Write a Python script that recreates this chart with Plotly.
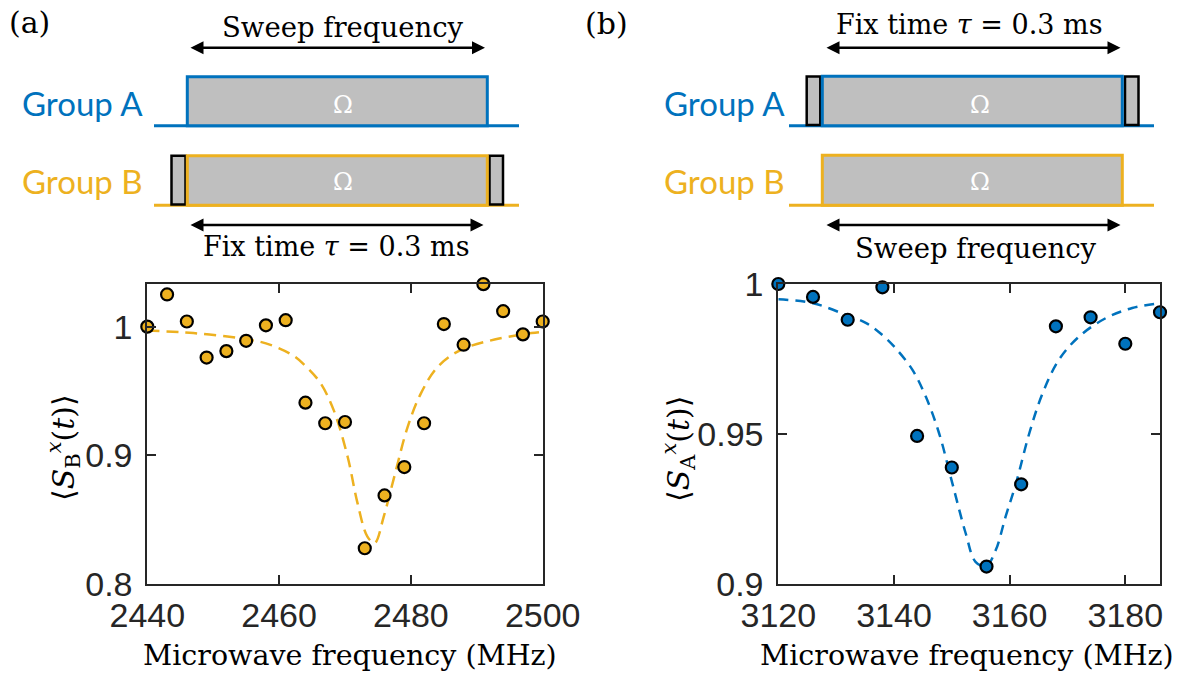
import plotly.graph_objects as go

W, H = 1187, 681

# ---------------- data ----------------
# panel (a): group B signal vs frequency
b_freq = [2440, 2443, 2446, 2449, 2452, 2455, 2458, 2461, 2464, 2467, 2470,
          2473, 2476, 2479, 2482, 2485, 2488, 2491, 2494, 2497, 2500]
b_signal = [1.000, 1.025, 1.004, 0.976, 0.981, 0.989, 1.001, 1.005, 0.941, 0.925, 0.926,
            0.828, 0.869, 0.891, 0.925, 1.002, 0.986, 1.033, 1.012, 0.994, 1.004]
b_fit_freq = [2440, 2447, 2454, 2458, 2462, 2464.3, 2466.3, 2468.3, 2470.4, 2471.9, 2473.4,
              2474.5, 2475.9, 2477.5, 2479.5, 2481.5, 2484.1, 2487.6, 2492.7, 2498.3, 2500]
b_fit_val = [0.997, 0.995, 0.991, 0.987, 0.978, 0.968, 0.956, 0.935, 0.899, 0.863, 0.837,
             0.832, 0.853, 0.884, 0.922, 0.948, 0.969, 0.982, 0.990, 0.995, 0.996]

# panel (b): group A signal vs frequency
a_freq = [3120, 3126, 3132, 3138, 3144, 3150, 3156, 3162, 3168, 3174, 3180, 3186]
a_signal = [1.000, 0.9957, 0.9881, 0.9989, 0.9494, 0.9389, 0.9059, 0.9333,
            0.9859, 0.9889, 0.9801, 0.9906]
a_fit_freq = [3120, 3126, 3131.7, 3135.2, 3138, 3140.3, 3143.2, 3145.5, 3147.8, 3150.1,
              3152.4, 3154.1, 3155.9, 3157.6, 3159.3, 3161.1, 3163.4, 3165.7, 3168.5,
              3172, 3176.6, 3181.2, 3186]
a_fit_val = [0.9949, 0.9936, 0.9897, 0.987, 0.983, 0.9786, 0.9714, 0.9625, 0.9503, 0.9336,
             0.917, 0.9075, 0.906, 0.9114, 0.9225, 0.9336, 0.9503, 0.9636, 0.9747,
             0.9825, 0.9886, 0.992, 0.9936]

b_xticks = [2440, 2460, 2480, 2500]
b_yticks = [0.8, 0.9, 1.0]
b_yticktext = ["0.8", "0.9", "1"]
a_xticks = [3120, 3140, 3160, 3180]
a_yticks = [0.9, 0.95, 1.0]
a_yticktext = ["0.9", "0.95", "1"]

# ---------------- style ----------------
BLUE = "#0072BD"
YELLOW = "#EDB120"
GRAY = "#BFBFBF"
AX = "#262626"
SERIF = "DejaVu Serif"
SANS = "Liberation Sans"
LABEL = "Lato"


def px(x):
    return x / W


def py(y):
    return 1 - y / H


fig = go.Figure()

fig.add_trace(go.Scatter(x=b_fit_freq, y=b_fit_val, mode="lines", line_shape="spline",
                         line=dict(color=YELLOW, width=2.5, dash="12px,7px"),
                         xaxis="x", yaxis="y", showlegend=False))
fig.add_trace(go.Scatter(x=b_freq, y=b_signal, mode="markers", cliponaxis=False,
                         marker=dict(color=YELLOW, size=12, line=dict(color="black", width=2.2)),
                         xaxis="x", yaxis="y", showlegend=False))
fig.add_trace(go.Scatter(x=a_fit_freq, y=a_fit_val, mode="lines", line_shape="spline",
                         line=dict(color=BLUE, width=2.5, dash="10px,7px"),
                         xaxis="x2", yaxis="y2", showlegend=False))
fig.add_trace(go.Scatter(x=a_freq, y=a_signal, mode="markers", cliponaxis=False,
                         marker=dict(color=BLUE, size=12, line=dict(color="black", width=2.2)),
                         xaxis="x2", yaxis="y2", showlegend=False))

axis_common = dict(showgrid=False, zeroline=False, showline=True, linecolor=AX, linewidth=2,
                   mirror="ticks", ticks="inside", ticklen=9, tickwidth=2, tickcolor=AX,
                   automargin=False,
                   tickfont=dict(family=SANS, size=34, color=AX))

fig.update_layout(
    width=W, height=H, margin=dict(l=0, r=0, t=0, b=0, autoexpand=False),
    paper_bgcolor="white", plot_bgcolor="white",
    xaxis=dict(domain=[px(147.3), px(542.7)], range=[2440, 2500], tickvals=b_xticks,
               ticklabelstandoff=0, anchor="y", **axis_common),
    yaxis=dict(domain=[py(584.3), py(284)], range=[0.8, 1.0331], tickvals=b_yticks,
               ticktext=b_yticktext, ticklabelstandoff=6, anchor="x", **axis_common),
    xaxis2=dict(domain=[px(778.3), px(1160)], range=[3120, 3186], tickvals=a_xticks,
                ticklabelstandoff=0, anchor="y2", **axis_common),
    yaxis2=dict(domain=[py(584.3), py(284)], range=[0.9, 1.0], tickvals=a_yticks,
                ticktext=a_yticktext, ticklabelstandoff=6, anchor="x2", **axis_common),
)

shapes = []
ann = []


def line(x0, y0, x1, y1, color, width=3):
    shapes.append(dict(type="line", xref="paper", yref="paper", x0=px(x0), y0=py(y0),
                       x1=px(x1), y1=py(y1), line=dict(color=color, width=width)))


def rect(x0, y0, x1, y1, color, width=3):
    shapes.append(dict(type="rect", xref="paper", yref="paper", x0=px(x0), y0=py(y0),
                       x1=px(x1), y1=py(y1), fillcolor=GRAY, line=dict(color=color, width=width)))


def text(x, y, s, size, color="black", family=SERIF, xanchor="center", angle=0):
    ann.append(dict(x=px(x), y=py(y), xref="paper", yref="paper", text=s, showarrow=False,
                    xanchor=xanchor, yanchor="middle", textangle=angle,
                    font=dict(family=family, size=size, color=color)))


def arrow(x0, x1, y):
    ann.append(dict(x=px(x1), y=py(y), xref="paper", yref="paper", ax=-(x1 - x0), ay=0,
                    axref="pixel", ayref="pixel", text="", showarrow=True,
                    arrowhead=2, startarrowhead=2, arrowside="end+start",
                    arrowsize=1.0, startarrowsize=1.0, arrowwidth=2.6, arrowcolor="black"))


# ---- schematic (a) ----
line(154, 125.7, 519, 125.7, BLUE)
rect(187.3, 76.7, 487.3, 125.7, BLUE)
line(154, 205.3, 519, 205.3, YELLOW)
rect(171.5, 155.7, 185.5, 204.5, "black", 2.5)
rect(489.5, 155.7, 503, 204.5, "black", 2.5)
rect(187.3, 155.7, 487.3, 205.3, YELLOW)
text(343, 105, "Ω", 24, "white")
text(343, 182, "Ω", 24, "white")
arrow(189, 485, 47.7)
arrow(189, 483.5, 225)
text(29, 22, "(a)", 30)
text(343, 27, "Sweep frequency", 27.5)
text(336, 247, "Fix time <i>τ</i> = 0.3 ms", 27)
text(20, 103, "Group A", 33, BLUE, LABEL, "left")
text(20, 181, "Group B", 33, YELLOW, LABEL, "left")

# ---- schematic (b) ----
line(789, 125.7, 1154, 125.7, BLUE)
rect(806.7, 76.5, 820.3, 125, "black", 2.5)
rect(1125, 76.5, 1138.5, 125, "black", 2.5)
rect(822.3, 76.3, 1122.3, 125.7, BLUE)
line(789, 205.3, 1154, 205.3, YELLOW)
rect(822.3, 155.3, 1122.3, 205.3, YELLOW)
text(980, 105, "Ω", 24, "white")
text(980, 182, "Ω", 24, "white")
arrow(825, 1120.5, 47.7)
arrow(825, 1120.5, 225)
text(607, 23, "(b)", 30)
text(969, 25, "Fix time <i>τ</i> = 0.3 ms", 27)
text(976, 248, "Sweep frequency", 27.5)
text(662, 103, "Group A", 33, BLUE, LABEL, "left")
text(662, 181, "Group B", 33, YELLOW, LABEL, "left")

# ---- axis titles ----
text(350, 655, "Microwave frequency (MHz)", 28.5)
text(967, 655, "Microwave frequency (MHz)", 28.5)
text(63, 447, "⟨<i>S</i><sub>B</sub><sup><i>x</i></sup>(<i>t</i>)⟩", 30, angle=-90)
text(678, 449, "⟨<i>S</i><sub>A</sub><sup><i>x</i></sup>(<i>t</i>)⟩", 30, angle=-90)

fig.update_layout(shapes=shapes, annotations=ann)

fig.write_html("out.html", config={"displayModeBar": False},
               post_script="document.body.style.margin='0';")
